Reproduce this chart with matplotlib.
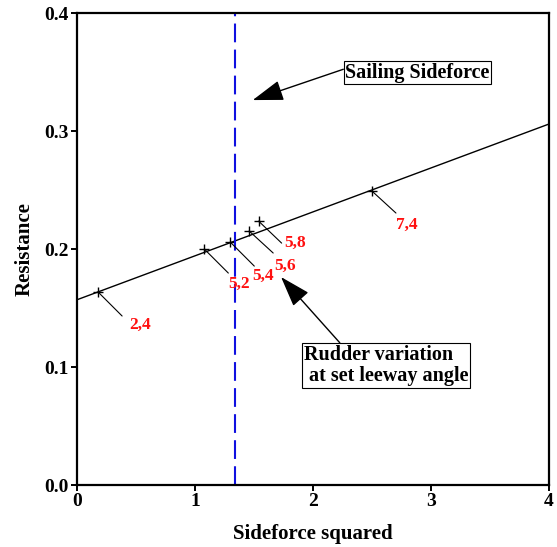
import matplotlib
matplotlib.use("Agg")
import matplotlib.pyplot as plt

# measured points (sideforce^2, resistance) and run labels
sf2 = [0.18, 1.08, 1.30, 1.46, 1.54, 2.50]
res = [0.1636, 0.2000, 0.2059, 0.2153, 0.2237, 0.2492]
labels = ["2,4", "5,2", "5,4", "5,6", "5,8", "7,4"]

# fitted line
fit_x = [0.0, 4.0]
fit_y = [0.157, 0.306]

sailing_sf2 = 1.34

plt.rcParams.update({
    "font.family": "Liberation Serif", "font.weight": "bold",
    "font.size": 14, "axes.linewidth": 1.6,
    "xtick.direction": "out", "ytick.direction": "out",
    "xtick.major.size": 4, "ytick.major.size": 4,
    "xtick.major.width": 1.4, "ytick.major.width": 1.4,
    "xtick.major.pad": 2, "ytick.major.pad": 2})

fig = plt.figure(figsize=(5.57, 5.47), dpi=100)
ax = fig.add_axes([0.138, 0.1133, 0.8476, 0.8627])

ax.plot(fit_x, fit_y, color="black", lw=1.0)
ax.plot(sf2, res, ls="none", marker="+", ms=7, mew=1.0, color="black")
ax.axvline(sailing_sf2, color="#1010e0", lw=1.5, dashes=(9, 3.5))

# leader lines + red labels (offsets in pixels)
lead_off = [(24, -24), (24, -24), (24, -24), (24, -22), (23, -22), (24, -22)]
text_off = [(42, -33), (35, -35), (33, -34), (36, -35), (36, -22), (35, -34)]
for x, y, lab, lo, to in zip(sf2, res, labels, lead_off, text_off):
    ax.annotate("", xy=(x, y), xytext=lo, textcoords="offset pixels",
                arrowprops=dict(arrowstyle="-", lw=0.8, color="black",
                                shrinkA=0, shrinkB=0))
    ax.annotate(lab, xy=(x, y), xytext=to, textcoords="offset pixels",
                ha="center", va="center", color="#ff1010", fontsize=12.5,
                fontweight="bold")

box = dict(boxstyle="square,pad=0.08", fc="white", ec="black", lw=0.8)
ax.annotate("Sailing Sideforce", xy=(1.49, 0.3263), xytext=(2.886, 0.3496),
            ha="center", va="center", fontsize=14.5, bbox=box,
            arrowprops=dict(arrowstyle="-|>,head_length=1.2,head_width=0.4",
                            mutation_scale=16, lw=1.0, color="black",
                            relpos=(0.0, 0.7), shrinkA=0, shrinkB=0))
ax.annotate("Rudder variation\n at set leeway angle", xy=(1.73, 0.1763),
            xytext=(2.619, 0.1013), ha="center", va="center", ma="left",
            fontsize=14.5, bbox=box, linespacing=1.1,
            arrowprops=dict(arrowstyle="-|>,head_length=1.2,head_width=0.4",
                            mutation_scale=16, lw=1.0, color="black",
                            relpos=(0.23, 1.0), shrinkA=0, shrinkB=0))

ax.set_xlim(0, 4)
ax.set_ylim(0, 0.4)
ax.set_xticks([0, 1, 2, 3, 4])
ax.set_yticks([0.0, 0.1, 0.2, 0.3, 0.4])
ax.set_yticklabels(["0.0", "0.1", "0.2", "0.3", "0.4"])
ax.set_xlabel("Sideforce squared", fontsize=15, fontweight="bold", labelpad=10)
ax.set_ylabel("Resistance", fontsize=15, fontweight="bold", labelpad=7)

fig.savefig("out.png", dpi=100)
